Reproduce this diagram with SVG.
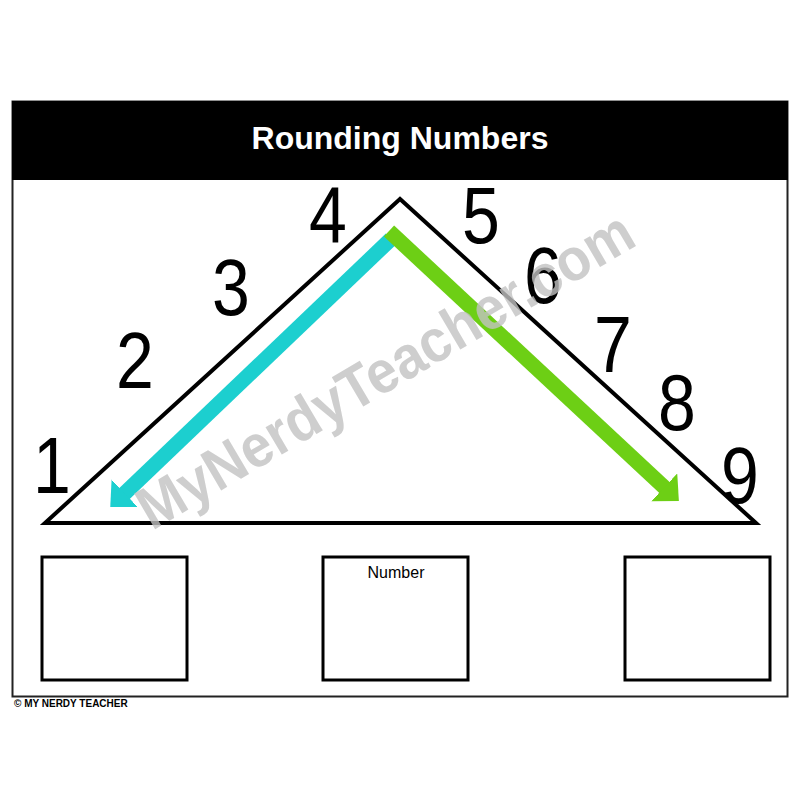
<svg xmlns="http://www.w3.org/2000/svg" width="800" height="800" viewBox="0 0 800 800">
<style>
.num{font-family:"Liberation Sans","DejaVu Sans",sans-serif;font-size:80px;fill:#000;text-anchor:middle}
.box{fill:#fff;stroke:#000;stroke-width:3}
</style>
<defs>
<marker id="headC" markerUnits="userSpaceOnUse" markerWidth="22" markerHeight="40" refX="1" refY="19" orient="auto">
<path d="M0,0 L20,19 L0,38 z" fill="#1ccfcf"/>
</marker>
<marker id="headG" markerUnits="userSpaceOnUse" markerWidth="22" markerHeight="40" refX="1" refY="19" orient="auto">
<path d="M0,0 L20,19 L0,38 z" fill="#6dcf15"/>
</marker>
</defs>
<rect x="0" y="0" width="800" height="800" fill="#fff"/>
<g id="frame">
<rect x="12.5" y="101.5" width="775" height="595" fill="#fff" stroke="#222" stroke-width="2"/>
<rect x="12" y="101" width="776" height="79" fill="#000"/>
<text x="400" y="149" font-family="Liberation Sans, Arial, sans-serif" font-size="32" font-weight="bold" fill="#fff" text-anchor="middle">Rounding Numbers</text>
</g>
<g id="triangle">
<polygon points="400,199 45,523 756,523" fill="#fff" stroke="#000" stroke-width="4" stroke-linejoin="miter"/>
</g>
<g id="connectors">
<line x1="391" y1="239" x2="124" y2="494" stroke="#1ccfcf" stroke-width="15" marker-end="url(#headC)"/>
<line x1="389" y1="231" x2="665" y2="488" stroke="#6dcf15" stroke-width="15" marker-end="url(#headG)"/>
</g>
<g id="numbers">
<text class="num" transform="translate(52,493) scale(0.85,1)">1</text>
<text class="num" transform="translate(135,388) scale(0.85,1)">2</text>
<text class="num" transform="translate(231,315) scale(0.85,1)">3</text>
<text class="num" transform="translate(328,242) scale(0.85,1)">4</text>
<text class="num" transform="translate(481,243) scale(0.85,1)">5</text>
<text class="num" transform="translate(543,303) scale(0.85,1)">6</text>
<text class="num" transform="translate(613,372) scale(0.85,1)">7</text>
<text class="num" transform="translate(677,430) scale(0.85,1)">8</text>
<text class="num" transform="translate(740,503) scale(0.85,1)">9</text>
</g>
<g id="watermark">
<text x="0" y="0" transform="translate(152,531) rotate(-30.5)" font-family="Liberation Sans, Arial, sans-serif" font-size="60" font-weight="bold" fill="#c2c2c2" fill-opacity="0.8" textLength="565" lengthAdjust="spacingAndGlyphs">MyNerdyTeacher.com</text>
</g>
<g id="box-left">
<rect class="box" x="42" y="557" width="145" height="123"/>
</g>
<g id="box-number">
<rect class="box" x="323" y="557" width="145" height="123"/>
<text x="396" y="578" font-family="Liberation Sans, Arial, sans-serif" font-size="16" fill="#000" text-anchor="middle">Number</text>
</g>
<g id="box-right">
<rect class="box" x="625" y="557" width="145" height="123"/>
</g>
<g id="footer">
<text x="14" y="707" font-family="Liberation Sans, Arial, sans-serif" font-size="10" font-weight="bold" fill="#000">© MY NERDY TEACHER</text>
</g>
</svg>
